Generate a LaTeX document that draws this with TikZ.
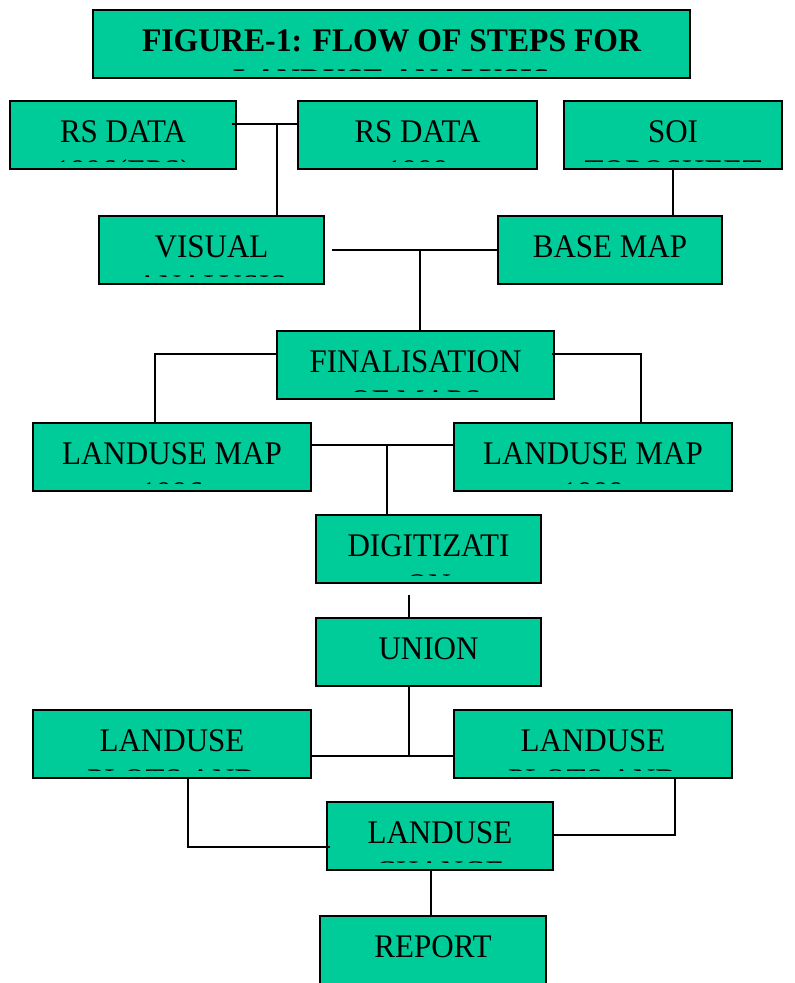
\documentclass[tikz,border=0pt]{standalone}
\usepackage{fontspec}
\setmainfont{Liberation Serif}[FakeStretch=0.94]
\newfontfamily\titlefont{Liberation Serif}[FakeStretch=0.96]
\usetikzlibrary{calc}
\definecolor{boxgreen}{RGB}{0,204,153}
\tikzset{
  box/.style={draw=black, line width=2pt, fill=boxgreen, inner sep=0pt, outer sep=0pt},
  lbl/.style={anchor=base, inner sep=0pt},
  conn/.style={draw=black, line width=1.4pt},
}
% name, x1, y1, x2, y2, line 1, line 2, font switch
\newcommand\flowbox[8]{%
  \node[box, minimum width={(#4-#2)*1pt}, minimum height={(#5-#3)*1pt}]
    (#1) at ({(#2+#4)/2},{(#3+#5)/2}) {};
  \begin{scope}
    \clip (#2,#3) rectangle (#4,{#5-8});
    \node[lbl, font=#8\fontsize{33}{39}\selectfont] (#1-a) at ({(#2+#4)/2},{#3+41}) {#6};
    \node[lbl, font=#8\fontsize{33}{39}\selectfont] (#1-b) at ({(#2+#4)/2},{#3+81}) {#7};
  \end{scope}
}
\begin{document}
\begin{tikzpicture}[x=1pt, y=-1pt]
\useasboundingbox (0,0) rectangle (795,983);
% boxes
\flowbox{title}{93}{10}{690}{78}{FIGURE-1: FLOW OF STEPS FOR}{LANDUSE ANALYSIS}{\titlefont\bfseries}
\flowbox{rs1}{10}{101}{236}{169}{RS DATA}{1996(EPS)}{}
\flowbox{rs2}{298}{101}{537}{169}{RS DATA}{1999}{}
\flowbox{soi}{564}{101}{782}{169}{SOI}{TOPOSHEET}{}
\flowbox{vis}{99}{216}{324}{284}{VISUAL}{ANALYSIS}{}
\flowbox{base}{498}{216}{722}{284}{BASE MAP}{}{}
\flowbox{fin}{277}{331}{554}{399}{FINALISATION}{OF MAPS}{}
\flowbox{lml}{33}{423}{311}{491}{LANDUSE MAP}{1996}{}
\flowbox{lmr}{454}{423}{732}{491}{LANDUSE MAP}{1999}{}
\flowbox{dig}{316}{515}{541}{583}{DIGITIZATI}{ON}{}
\flowbox{uni}{316}{618}{541}{686}{UNION}{}{}
\flowbox{lul}{33}{710}{311}{778}{LANDUSE}{PLOTS AND}{}
\flowbox{lur}{454}{710}{732}{778}{LANDUSE}{PLOTS AND}{}
\flowbox{chg}{327}{802}{553}{870}{LANDUSE}{CHANGE}{}
\flowbox{rep}{320}{916}{546}{1000}{REPORT}{}{}
% junction points
\coordinate (j1) at (277,124);
\coordinate (j2) at (420,250);
\coordinate (j3) at (155,354);
\coordinate (j4) at (641,354);
\coordinate (j5) at (387,445);
\coordinate (j6) at (409,595);
\coordinate (j7) at (409,756);
\coordinate (j8) at (188,847);
\coordinate (j9) at (675,835);
\coordinate (j10) at (431,870);
% connectors
\draw[conn] ([shift={(-4,-11)}]rs1.east) -- ([shift={(0,-11)}]rs2.west);
\draw[conn] (j1) -- (j1 |- vis.north);
\draw[conn] (soi.south) -- (soi.south |- base.north);
\draw[conn] ([xshift=8pt]vis.east) -- (base.west);
\draw[conn] (j2) -- (j2 |- fin.north);
\draw[conn] ([shift={(0,-11)}]fin.west) -- (j3) -- (j3 |- lml.north);
\draw[conn] ([shift={(-2,-11)}]fin.east) -- (j4) -- (j4 |- lmr.north);
\draw[conn] ([shift={(0,-12)}]lml.east) -- ([shift={(0,-12)}]lmr.west);
\draw[conn] (j5) -- (j5 |- dig.north);
\draw[conn] (j6) -- (j6 |- uni.north);
\draw[conn] (j7 |- uni.south) -- (j7);
\draw[conn] ([shift={(0,12)}]lul.east) -- ([shift={(0,12)}]lur.west);
\draw[conn] (j8 |- lul.south) -- (j8) -- ([shift={(3,11)}]chg.west);
\draw[conn] (j9 |- lur.south) -- (j9) -- (j9 -| chg.east);
\draw[conn] (j10) -- (j10 |- rep.north);
\end{tikzpicture}
\end{document}
